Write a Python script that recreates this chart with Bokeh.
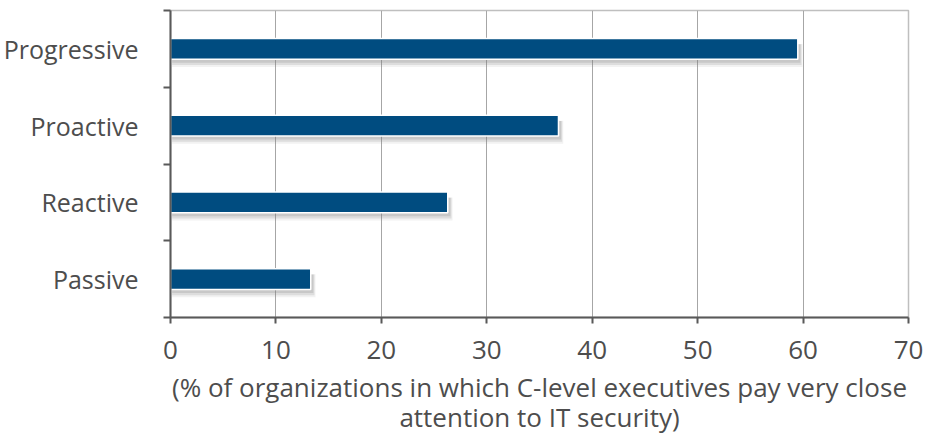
from bokeh.plotting import figure
from bokeh.models import Range1d, FixedTicker
from bokeh.embed import file_html
from bokeh.resources import INLINE

categories = ["Progressive", "Proactive", "Reactive", "Passive"]
values = [59.5, 36.8, 26.3, 13.3]
x_ticks = [0, 10, 20, 30, 40, 50, 60, 70]

n = len(categories)
ypos = [n - i - 0.5 for i in range(n)]  # top to bottom
bar_h = 0.27

p = figure(width=926, height=438, output_backend="svg", toolbar_location=None,
           x_range=Range1d(0, 70), y_range=Range1d(0, n),
           min_border_left=169, min_border_right=18, min_border_top=10, min_border_bottom=118)

# soft drop shadows
for dx, dy, grow, a in [(0.45, 0.085, 0.03, 0.10), (0.35, 0.075, 0.0, 0.18), (0.25, 0.06, -0.03, 0.22)]:
    p.hbar(y=[y - dy for y in ypos], left=[0.15] * n, right=[v + dx for v in values],
           height=bar_h + grow, fill_color="#7F7F7F", fill_alpha=a, line_color=None)

p.hbar(y=ypos, left=[0] * n, right=values, height=bar_h,
       fill_color="#004C80", line_color="white", line_width=1.5)

font = "Open Sans"
fs = "26px"
tc = "#4D4D4D"
p.xaxis.ticker = FixedTicker(ticks=x_ticks)
p.xaxis.axis_label = "(% of organizations in which C-level executives pay very close\nattention to IT security)"
p.xaxis.axis_label_text_font = font
p.xaxis.axis_label_text_font_size = fs
p.xaxis.axis_label_text_font_style = "normal"
p.xaxis.axis_label_text_color = tc
p.xaxis.axis_label_standoff = 7
p.xaxis.axis_label_text_line_height = 0.85
p.xaxis.major_label_text_font = font
p.xaxis.major_label_text_font_size = fs
p.xaxis.major_label_text_color = tc
p.xaxis.major_label_standoff = 17
p.xaxis.major_tick_out = 6
p.xaxis.major_tick_in = 0
p.xaxis.minor_tick_line_color = None

p.yaxis.ticker = FixedTicker(ticks=ypos, minor_ticks=list(range(n + 1)))
p.yaxis.major_label_overrides = {y: c for y, c in zip(ypos, categories)}
p.yaxis.major_label_text_font = font
p.yaxis.major_label_text_font_size = "25px"
p.yaxis.major_label_text_color = tc
p.yaxis.major_label_standoff = 25
p.yaxis.major_tick_line_color = None
p.yaxis.major_tick_out = 0
p.yaxis.major_tick_in = 0
p.yaxis.minor_tick_out = 7
p.yaxis.minor_tick_in = 0
p.yaxis.minor_tick_line_color = "#595959"
p.yaxis.minor_tick_line_width = 2

for ax in (p.xaxis, p.yaxis):
    ax.axis_line_color = "#595959"
    ax.axis_line_width = 2
    ax.major_tick_line_width = 2
p.xaxis.major_tick_line_color = "#595959"

p.xgrid.grid_line_color = "#A6A6A6"
p.xgrid.grid_line_width = 1
p.ygrid.grid_line_color = None
p.outline_line_color = "#BFBFBF"
p.outline_line_width = 1.5

open("out.html", "w").write(file_html(p, INLINE))
